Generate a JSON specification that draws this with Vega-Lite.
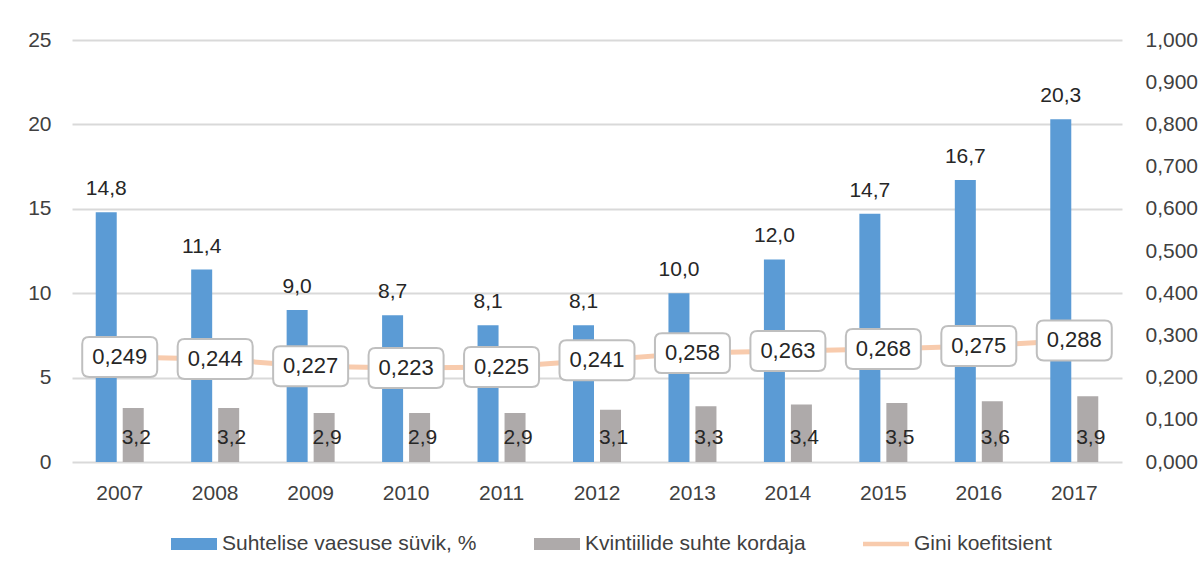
{
  "$schema": "https://vega.github.io/schema/vega-lite/v6.json",
  "width": 1050,
  "height": 422,
  "autosize": {"type": "none"},
  "padding": {"left": 72, "top": 40, "right": 80, "bottom": 109},
  "background": "white",
  "config": {
    "font": "Liberation Sans",
    "view": {"stroke": null},
    "locale": {"number": {"decimal": ",", "thousands": "\u00a0", "grouping": [3], "currency": ["", "\u00a0€"]}}
  },
  "datasets": {
    "bars": [
      {"year": "2007", "series": "Suhtelise vaesuse süvik, %", "value": 14.8},
      {"year": "2008", "series": "Suhtelise vaesuse süvik, %", "value": 11.4},
      {"year": "2009", "series": "Suhtelise vaesuse süvik, %", "value": 9.0},
      {"year": "2010", "series": "Suhtelise vaesuse süvik, %", "value": 8.7},
      {"year": "2011", "series": "Suhtelise vaesuse süvik, %", "value": 8.1},
      {"year": "2012", "series": "Suhtelise vaesuse süvik, %", "value": 8.1},
      {"year": "2013", "series": "Suhtelise vaesuse süvik, %", "value": 10.0},
      {"year": "2014", "series": "Suhtelise vaesuse süvik, %", "value": 12.0},
      {"year": "2015", "series": "Suhtelise vaesuse süvik, %", "value": 14.7},
      {"year": "2016", "series": "Suhtelise vaesuse süvik, %", "value": 16.7},
      {"year": "2017", "series": "Suhtelise vaesuse süvik, %", "value": 20.3},
      {"year": "2007", "series": "Kvintiilide suhte kordaja", "value": 3.2},
      {"year": "2008", "series": "Kvintiilide suhte kordaja", "value": 3.2},
      {"year": "2009", "series": "Kvintiilide suhte kordaja", "value": 2.9},
      {"year": "2010", "series": "Kvintiilide suhte kordaja", "value": 2.9},
      {"year": "2011", "series": "Kvintiilide suhte kordaja", "value": 2.9},
      {"year": "2012", "series": "Kvintiilide suhte kordaja", "value": 3.1},
      {"year": "2013", "series": "Kvintiilide suhte kordaja", "value": 3.3},
      {"year": "2014", "series": "Kvintiilide suhte kordaja", "value": 3.4},
      {"year": "2015", "series": "Kvintiilide suhte kordaja", "value": 3.5},
      {"year": "2016", "series": "Kvintiilide suhte kordaja", "value": 3.6},
      {"year": "2017", "series": "Kvintiilide suhte kordaja", "value": 3.9}
    ],
    "gini": [
      {"year": "2007", "gini": 0.249},
      {"year": "2008", "gini": 0.244},
      {"year": "2009", "gini": 0.227},
      {"year": "2010", "gini": 0.223},
      {"year": "2011", "gini": 0.225},
      {"year": "2012", "gini": 0.241},
      {"year": "2013", "gini": 0.258},
      {"year": "2014", "gini": 0.263},
      {"year": "2015", "gini": 0.268},
      {"year": "2016", "gini": 0.275},
      {"year": "2017", "gini": 0.288}
    ]
  },
  "layer": [
    {
      "data": {"name": "bars"},
      "layer": [
        {
          "mark": {"type": "bar"},
          "encoding": {
            "x": {"field": "year", "type": "nominal", "scale": {"paddingInner": 0, "paddingOuter": 0},
              "axis": {"title": null, "labelAngle": 0, "labelFontSize": 21, "labelColor": "#404040", "labelPadding": 20, "ticks": false, "domain": false, "grid": false}},
            "xOffset": {"field": "series", "type": "nominal", "scale": {"domain": ["Suhtelise vaesuse süvik, %", "Kvintiilide suhte kordaja"], "paddingInner": 0.222, "paddingOuter": 0.879}},
            "y": {"field": "value", "type": "quantitative", "scale": {"domain": [0, 25], "nice": false, "zero": true},
              "axis": {"orient": "left", "values": [0, 5, 10, 15, 20, 25], "title": null, "labelFontSize": 21, "labelColor": "#404040", "labelPadding": 21, "ticks": false, "domain": false, "grid": true, "gridColor": "#d9d9d9", "gridWidth": 2}},
            "color": {
              "field": "series", "type": "nominal",
              "scale": {"domain": ["Suhtelise vaesuse süvik, %", "Kvintiilide suhte kordaja", "Gini koefitsient"], "range": ["#5b9bd5", "#aeaaaa", "#f8cbad"]},
              "legend": {
                "orient": "none", "direction": "horizontal", "legendX": 99, "legendY": 481, "title": null,
                "labelFontSize": 21, "labelColor": "#404040", "labelLimit": 500, "symbolSize": 2116, "labelOffset": 5, "columnPadding": 57, "padding": 0,
                "symbolStrokeWidth": 0,
                "encode": {"symbols": {"update": {
                  "shape": {"signal": "datum.value === 'Gini koefitsient' ? 'M-1,-0.1H1V0.1H-1Z' : 'M-1,-0.26H1V0.26H-1Z'"},
                  "fill": {"scale": "color", "field": "value"},
                  "strokeWidth": {"value": 0}
                }}}
              }
            }
          }
        },
        {
          "transform": [{"filter": "datum.series === 'Suhtelise vaesuse süvik, %'"}],
          "mark": {"type": "text", "baseline": "alphabetic", "dy": -17, "fontSize": 21, "color": "#262626"},
          "encoding": {
            "x": {"field": "year", "type": "nominal", "scale": {"paddingInner": 0, "paddingOuter": 0}},
            "xOffset": {"field": "series", "type": "nominal", "scale": {"domain": ["Suhtelise vaesuse süvik, %", "Kvintiilide suhte kordaja"], "paddingInner": 0.222, "paddingOuter": 0.879}},
            "y": {"field": "value", "type": "quantitative"},
            "text": {"field": "value", "type": "quantitative", "format": ".1f"}
          }
        },
        {
          "transform": [{"filter": "datum.series === 'Kvintiilide suhte kordaja'"}],
          "mark": {"type": "text", "baseline": "middle", "dy": -24, "dx": 3, "fontSize": 21, "color": "#262626"},
          "encoding": {
            "x": {"field": "year", "type": "nominal", "scale": {"paddingInner": 0, "paddingOuter": 0}},
            "xOffset": {"field": "series", "type": "nominal", "scale": {"domain": ["Suhtelise vaesuse süvik, %", "Kvintiilide suhte kordaja"], "paddingInner": 0.222, "paddingOuter": 0.879}},
            "y": {"datum": 0, "type": "quantitative"},
            "text": {"field": "value", "type": "quantitative", "format": ".1f"}
          }
        }
      ]
    },
    {
      "data": {"name": "gini"},
      "layer": [
        {
          "mark": {"type": "line", "strokeWidth": 5, "strokeCap": "round", "strokeJoin": "round"},
          "encoding": {
            "x": {"field": "year", "type": "nominal", "scale": {"paddingInner": 0, "paddingOuter": 0}},
            "y": {"field": "gini", "type": "quantitative", "scale": {"domain": [0, 1], "nice": false},
              "axis": {"orient": "right", "values": [0, 0.1, 0.2, 0.3, 0.4, 0.5, 0.6, 0.7, 0.8, 0.9, 1.0], "format": ".3f", "title": null, "labelFontSize": 21, "labelColor": "#404040", "labelPadding": 23, "ticks": false, "domain": false, "grid": false}},
            "color": {"datum": "Gini koefitsient"}
          }
        },
        {
          "mark": {"type": "point", "filled": true, "fill": "white", "stroke": "#bfbfbf", "strokeWidth": 2, "opacity": 1, "size": 5625,
            "shape": "M-0.813,-0.533L0.813,-0.533Q1,-0.533 1,-0.347L1,0.347Q1,0.533 0.813,0.533L-0.813,0.533Q-1,0.533 -1,0.347L-1,-0.347Q-1,-0.533 -0.813,-0.533Z"},
          "encoding": {
            "x": {"field": "year", "type": "nominal", "scale": {"paddingInner": 0, "paddingOuter": 0}},
            "y": {"field": "gini", "type": "quantitative"}
          }
        },
        {
          "mark": {"type": "text", "baseline": "middle", "fontSize": 22, "color": "#262626"},
          "encoding": {
            "x": {"field": "year", "type": "nominal", "scale": {"paddingInner": 0, "paddingOuter": 0}},
            "y": {"field": "gini", "type": "quantitative"},
            "text": {"field": "gini", "type": "quantitative", "format": ".3f"}
          }
        }
      ]
    }
  ],
  "resolve": {"scale": {"y": "independent"}}
}
